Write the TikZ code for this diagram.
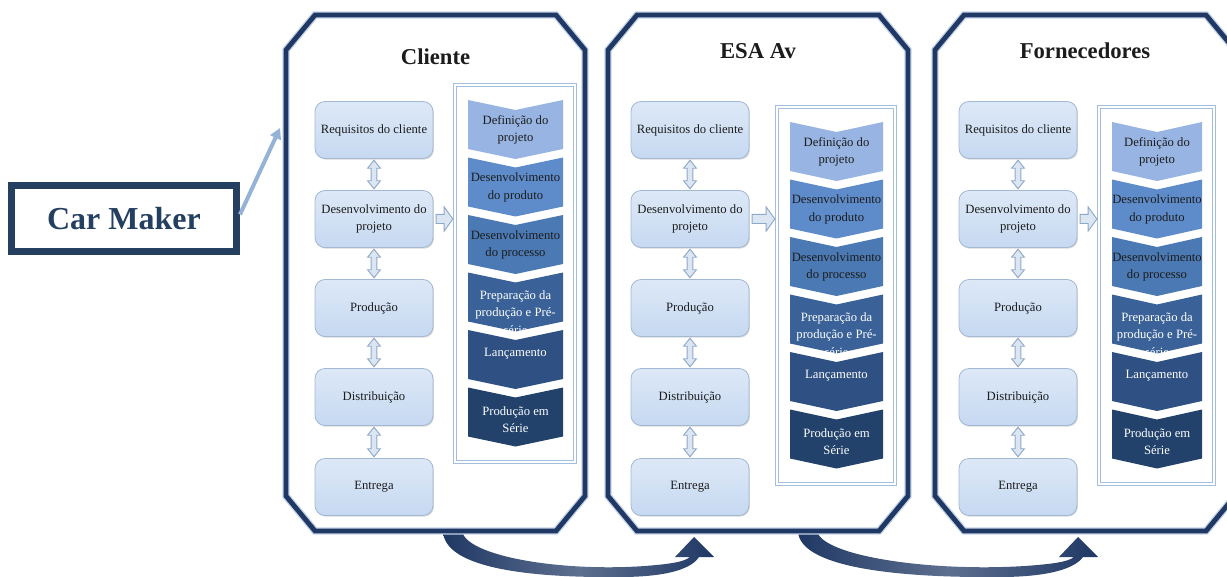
\documentclass[tikz,border=0pt]{standalone}
\usepackage{fontspec}
\setmainfont{Liberation Serif}
\usetikzlibrary{arrows.meta,shadows,calc}

\definecolor{navy}{HTML}{1F3864}
\definecolor{halo}{HTML}{C3D2E8}
\definecolor{makerblue}{HTML}{243F60}
\definecolor{pointerblue}{HTML}{95B3D7}
\definecolor{stagefill}{HTML}{C6D9F1}
\definecolor{stageline}{HTML}{A2B8D3}
\definecolor{hollowfill}{HTML}{DCE6F2}
\definecolor{hollowline}{HTML}{8EA8C8}
\definecolor{framecol}{HTML}{A4BEDF}
\definecolor{stepA}{HTML}{97B4E2}
\definecolor{stepB}{HTML}{5E8CCA}
\definecolor{stepC}{HTML}{4B79B3}
\definecolor{stepD}{HTML}{3A6298}
\definecolor{stepE}{HTML}{2E5082}
\definecolor{stepF}{HTML}{22426C}
\definecolor{ink}{HTML}{1C1C1C}

\tikzset{
  panelline/.style={draw=navy, line width=3.6pt, preaction={draw=halo, line width=5.6pt}},
  paneltitle/.style={font=\fontsize{17}{20}\selectfont\bfseries, text=ink, inner sep=0pt},
  stagebox/.style={draw=stageline, line width=0.6pt, top color=stagefill!60!white, bottom color=stagefill,
    rounded corners=7.5pt, minimum width=88.5pt, minimum height=42.75pt, inner sep=1pt, align=center,
    font=\fontsize{9.5}{12.75}\selectfont, text=ink,
    drop shadow={shadow xshift=0.7pt, shadow yshift=-0.9pt, opacity=0.3}},
  hollow/.style={fill=hollowfill, draw=hollowline, line width=0.7pt, line join=miter},
  stepframe/.style={draw=framecol, line width=1.2pt, double=white, double distance=1.1pt, fill=white,
    inner sep=0pt, drop shadow={shadow xshift=1pt, shadow yshift=-1.2pt, opacity=0.3}},
  steptext/.style={align=center, inner sep=0pt, font=\fontsize{9.5}{13}\selectfont},
  makerbox/.style={draw=makerblue, line width=5.25pt, minimum width=168.75pt, minimum height=49.5pt,
    font=\fontsize{24}{28}\selectfont\bfseries, text=makerblue},
  pointer/.style={draw=pointerblue, line width=3pt, -{Triangle[length=8pt,width=8.5pt]}},
  swoosh/.style={left color=navy, right color=navy, middle color=navy!72!white, draw=none},
}

% One organisation panel:
% #1 name prefix, #2/#3 left/right x of the outline, #4 title, #5 title y,
% #6 centre x of the stage boxes, #7/#8 left/right x of the step column, #9 its top y
\newcommand\stagepanel[9]{%
  \draw[panelline] ({#2+29},15) -- ({#3-29},15) -- (#3,50) -- (#3,496) -- ({#3-29},531)
    -- ({#2+29},531) -- (#2,496) -- (#2,50) -- cycle;
  \node[paneltitle] (#1title) at ({(#2+#3)/2},#5) {#4};
  % stage boxes
  \foreach \nm/\ypos/\txt in {req/130/{Requisitos do cliente}, des/219/{Desenvolvimento do\\projeto},
      pro/308/{Produção}, dis/397/{Distribuição}, ent/487/{Entrega}}
    \node[stagebox] (#1\nm) at (#6,\ypos) {\txt};
  % two-way block arrows between the stages
  \foreach \a/\b in {req/des,des/pro,pro/dis,dis/ent}
    \draw[hollow] ([yshift=-1pt]#1\a.south) -- ([xshift=4.8pt,yshift=-7pt]#1\a.south)
      -- ([xshift=2.2pt,yshift=-7pt]#1\a.south) -- ([xshift=2.2pt,yshift=7pt]#1\b.north)
      -- ([xshift=4.8pt,yshift=7pt]#1\b.north) -- ([yshift=1pt]#1\b.north)
      -- ([xshift=-4.8pt,yshift=7pt]#1\b.north) -- ([xshift=-2.2pt,yshift=7pt]#1\b.north)
      -- ([xshift=-2.2pt,yshift=-7pt]#1\a.south) -- ([xshift=-4.8pt,yshift=-7pt]#1\a.south) -- cycle;
  % column of development steps
  \pgfmathsetmacro\fw{(#8-#7)*0.75}
  \node[stepframe, minimum width=\fw pt, minimum height=282.75pt] (#1col) at ({(#7+#8)/2},{#9+188.5}) {};
  \pgfmathsetmacro\chl{#7+13}
  \pgfmathsetmacro\chr{#8-12}
  \pgfmathsetmacro\chc{(\chl+\chr)/2}
  \foreach \k/\stepcol in {0/stepA,1/stepB,2/stepC,3/stepD,4/stepE,5/stepF} {
    \pgfmathsetmacro\chtop{#9+15+57.5*\k}
    \fill[\stepcol] (\chl,\chtop) -- (\chc,\chtop+10) -- (\chr,\chtop) -- (\chr,\chtop+49)
      -- (\chc,\chtop+59) -- (\chl,\chtop+49) -- cycle;
  }
  \foreach \k/\tcol/\dy/\txt in {0/ink/30/{Definição do\\projeto},
      1/ink/30/{Desenvolvimento\\do produto}, 2/ink/30/{Desenvolvimento\\do processo},
      3/white/40/{\fontsize{9.5}{12}\selectfont Preparação da\\produção e Pré-\\série},
      4/white/24/{Lançamento}, 5/white/32/{Produção em\\Série}} {
    \pgfmathsetmacro\chtop{#9+15+57.5*\k}
    \node[steptext, text=\tcol] (#1step\k) at (\chc,\chtop+\dy) {\txt};
  }
  % block arrow from the design stage into the step column
  \coordinate (#1in) at (#1col.west |- #1des.east);
  \draw[hollow] ([xshift=2pt,yshift=3.4pt]#1des.east) -- ([xshift=-7.5pt,yshift=3.4pt]#1in)
    -- ([xshift=-7.5pt,yshift=9pt]#1in) -- ([xshift=-1pt]#1in)
    -- ([xshift=-7.5pt,yshift=-9pt]#1in) -- ([xshift=-7.5pt,yshift=-3.4pt]#1in)
    -- ([xshift=2pt,yshift=-3.4pt]#1des.east) -- cycle;
}

\begin{document}
\begin{tikzpicture}[x=0.75pt,y=-0.75pt]
\useasboundingbox (0,0) rectangle (1227,577);

% curved hand-over arrows under the panels
\path[swoosh] (443,531) -- (462,531)
  .. controls (466,556) and (560,572) .. (645,566)
  .. controls (670,564) and (684,562) .. (690,557)
  -- (675,557) -- (694,537) -- (714,557) -- (699,557)
  .. controls (690,571) and (660,577) .. (620,577)
  .. controls (520,578) and (444,566) .. (443,531) -- cycle;
\path[swoosh] (798,531) -- (817,531)
  .. controls (822,556) and (930,572) .. (1025,566)
  .. controls (1052,564) and (1068,562) .. (1074,557)
  -- (1059,557) -- (1078,537) -- (1098,557) -- (1083,557)
  .. controls (1073,571) and (1040,577) .. (1000,577)
  .. controls (890,578) and (799,566) .. (798,531) -- cycle;

\stagepanel{c}{286}{585}{Cliente}{57}{374}{455}{575}{85}
\stagepanel{e}{608}{908}{ESA Av}{51}{690}{777}{895}{107}
\stagepanel{f}{935}{1235}{Fornecedores}{51}{1018}{1099}{1214}{107}

% car maker label pointing at the first panel
\node[makerbox] (maker) at (124,218.5) {Car Maker};
\coordinate (makerentry) at (280,128);
\draw[pointer] ([yshift=3pt]maker.east) -- (makerentry);
\end{tikzpicture}
\end{document}
